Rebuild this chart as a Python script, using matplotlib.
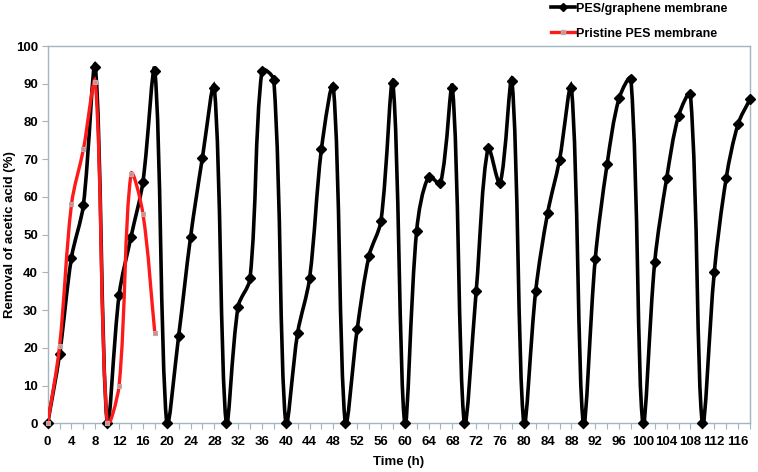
import numpy as np
import matplotlib
matplotlib.use("Agg")
import matplotlib.pyplot as plt
from matplotlib.path import Path
from matplotlib.patches import PathPatch
from matplotlib.lines import Line2D

plt.rcParams['font.family'] = ['Liberation Sans', 'DejaVu Sans']
plt.rcParams['font.weight'] = 'bold'

# PES/graphene membrane, 12 cycles of 10 h
graphene_time = list(range(0, 119, 2))
graphene_removal = [0, 18.3, 43.9, 57.9, 94.5,
                    0, 34.0, 49.4, 64.0, 93.5,
                    0, 23.1, 49.3, 70.4, 89.0,
                    0, 30.9, 38.4, 93.5, 91.0,
                    0, 24.0, 38.4, 72.7, 89.2,
                    0, 24.9, 44.4, 53.7, 90.1,
                    0, 51.1, 65.4, 63.6, 89.0,
                    0, 35.1, 72.9, 63.6, 90.8,
                    0, 35.1, 55.7, 69.8, 89.0,
                    0, 43.5, 68.7, 86.1, 91.3,
                    0, 42.8, 64.9, 81.5, 87.2,
                    0, 40.0, 64.9, 79.3, 85.9]

# pristine PES membrane
pristine_time = list(range(0, 19, 2))
pristine_removal = [0, 20.5, 58.0, 72.6, 90.4, 0, 10.0, 66.0, 55.6, 24.0]

x_ticks = list(range(0, 119, 2))
x_labels = [str(t) if t % 4 == 0 else '' for t in x_ticks]
y_ticks = list(range(0, 101, 10))

axis_grey = '#a3b6bf'
red = '#ff1a1a'


# excel-like smoothed line: bezier, control arms weighted by segment length (in pixels)
def smooth_path(ax, x, y):
    pts = np.column_stack([x, y]).astype(float)
    pix = ax.transData.transform(pts)
    n = len(pts)

    def arms(i):
        p0 = pts[max(i - 1, 0)]
        p2 = pts[min(i + 1, n - 1)]
        d01 = np.hypot(*(pix[i] - pix[max(i - 1, 0)]))
        d12 = np.hypot(*(pix[min(i + 1, n - 1)] - pix[i]))
        tot = d01 + d12
        if tot == 0:
            return np.zeros(2), np.zeros(2)
        tan = (p2 - p0) / 3.0
        return tan * d01 / tot, tan * d12 / tot

    verts = [pts[0]]
    codes = [Path.MOVETO]
    for i in range(n - 1):
        _, right = arms(i)
        left, _ = arms(i + 1)
        verts += [pts[i] + right, pts[i + 1] - left, pts[i + 1]]
        codes += [Path.CURVE4] * 3
    return Path(verts, codes)


fig = plt.figure(figsize=(7.58, 4.72), dpi=100)
ax = fig.add_axes([0.0629, 0.1032, 0.9265, 0.7993])
ax.set_xlim(0, 118)
ax.set_ylim(0, 100)

ax.add_patch(PathPatch(smooth_path(ax, graphene_time, graphene_removal),
                       facecolor='none', edgecolor='black', lw=2.6, zorder=3))
ax.plot(graphene_time, graphene_removal, ls='none', marker='D', ms=5.5,
        color='black', zorder=4, clip_on=False)

ax.add_patch(PathPatch(smooth_path(ax, pristine_time, pristine_removal),
                       facecolor='none', edgecolor=red, lw=2.4, zorder=5))
ax.plot(pristine_time, pristine_removal, ls='none', marker='s', ms=3.2,
        mfc='#f08080', mec='#b0b0b0', mew=0.8, zorder=6, clip_on=False)

ax.set_xticks(x_ticks)
ax.set_xticklabels(x_labels, fontsize=9.5, fontweight='bold')
ax.set_yticks(y_ticks)
ax.set_yticklabels([str(v) for v in y_ticks], fontsize=9.5, fontweight='bold')
ax.tick_params(axis='both', direction='out', length=4, width=0.8,
               color=axis_grey)
ax.tick_params(axis='x', pad=5)
ax.tick_params(axis='y', pad=3)
for s in ax.spines.values():
    s.set_color(axis_grey)
    s.set_linewidth(1.0)

ax.set_xlabel('Time (h)', fontsize=9.5, fontweight='bold')
ax.xaxis.set_label_coords(0.5, -0.086)
ax.set_ylabel('Removal of acetic acid (%)', fontsize=9.5, fontweight='bold')
ax.yaxis.set_label_coords(-0.045, 0.5)

handles = [Line2D([], [], color='black', lw=2.6, marker='D', ms=4),
           Line2D([], [], color=red, lw=2.4, marker='s', ms=2.5,
                  mfc='#f08080', mec='#b0b0b0')]
ax.legend(handles, ['PES/graphene membrane', 'Pristine PES membrane'],
          loc='lower left', bbox_to_anchor=(0.708, 1.0), frameon=False,
          handlelength=1.9, handletextpad=0.1, labelspacing=1.05,
          prop={'size': 9, 'weight': 'bold'}, borderaxespad=0.1)

fig.savefig('out.png', dpi=100)
